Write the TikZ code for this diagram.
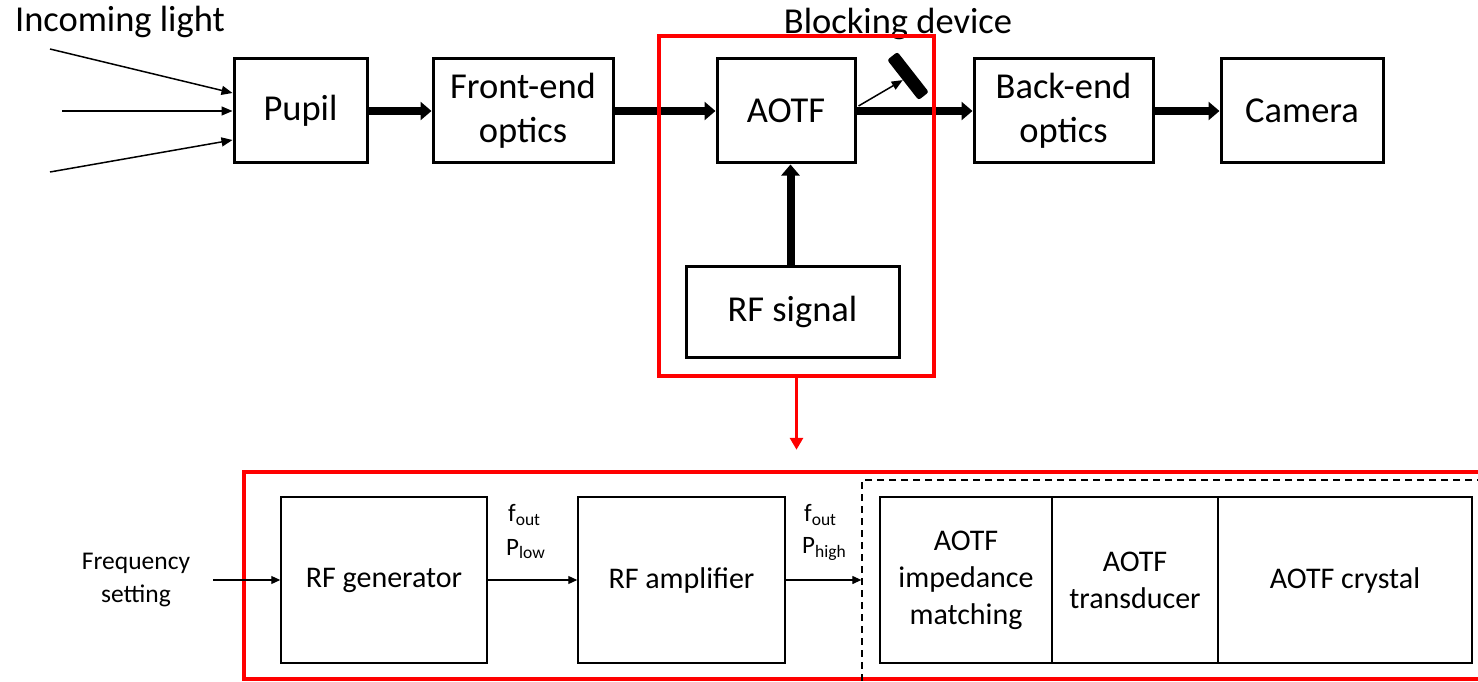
\documentclass[tikz,border=0pt]{standalone}
\usepackage{fontspec}
\setmainfont{Carlito}
\usetikzlibrary{arrows.meta,calc}
\definecolor{pred}{RGB}{255,0,0}
\begin{document}
\begin{tikzpicture}[x=1pt,y=-1pt,
  topbox/.style={draw,line width=3pt,minimum height=104pt,inner sep=0pt,align=center,
    font=\fontsize{36.5}{44}\selectfont},
  botbox/.style={draw,line width=1.5pt,minimum height=166pt,inner sep=0pt,align=center,
    font=\fontsize{30}{37}\selectfont},
  thickarrow/.style={line width=8pt,-{Triangle[length=11pt,width=18pt]}},
  thinarrow/.style={line width=1.5pt,-{Triangle[length=11pt,width=9pt]}},
  smallarrow/.style={line width=1.2pt,-{Triangle[length=9pt,width=8pt]}},
  redframe/.style={draw=pred,line width=4.5pt,inner sep=0pt},
  lbl/.style={inner sep=0pt,align=center}
]
\useasboundingbox (0,0) rectangle (1478,682);

% top row
\node[topbox,minimum width=133pt] (pupil) at (300.5,111) {Pupil};
\node[topbox,minimum width=180pt] (front) at (523,111) {Front-end\\optics};
\node[topbox,minimum width=138pt] (aotf) at (786,111) {AOTF};
\node[topbox,minimum width=179pt] (back) at (1063.5,111) {Back-end\\optics};
\node[topbox,minimum width=162pt] (cam) at (1302,111) {Camera};
\node[topbox,minimum width=213pt,minimum height=91pt] (rf) at (792.5,311.5) {RF signal};

\node[lbl,font=\fontsize{36.5}{44}\selectfont] (inc) at (120,22) {Incoming light};
\node[lbl,font=\fontsize{36.5}{44}\selectfont] (blk) at (898,24) {Blocking device};

% incoming light rays
\coordinate (in1) at (50,49);
\coordinate (in2) at (62,111);
\coordinate (in3) at (50,172);
\draw[thinarrow] (in1) -- ($(pupil.west)+(0,-18)$);
\draw[thinarrow] (in2) -- (pupil.west);
\draw[thinarrow] (in3) -- ($(pupil.west)+(0,29)$);

% thick arrows
\draw[thickarrow] (pupil.east) -- (front.west);
\draw[thickarrow] (front.east) -- (aotf.west);
\draw[thickarrow] (aotf.east) -- (back.west);
\draw[thickarrow] (back.east) -- (cam.west);
\draw[thickarrow] ($(rf.north)+(-2,0)$) -- ($(rf.north |- aotf.south)+(-2,0)$);

% blocking device
\node[fill=black,rounded corners=2.5pt,minimum width=51pt,minimum height=13pt,inner sep=0pt,rotate=-52] (block) at (908,76) {};
\draw[thinarrow] ($(aotf.east)+(2,-5)$) -- (block.south);

% red frame top
\node[redframe,minimum width=275pt,minimum height=340pt] (redtop) at (796.5,206) {};

% bottom red frame
\node[redframe,minimum width=1300pt,minimum height=207pt] (redbot) at (894,575.5) {};
\draw[pred,line width=3pt,-{Triangle[length=12pt,width=13pt]}] (redtop.south) -- ($(redtop.south |- redbot.north)+(0,-20)$);

% dashed frame
\node[draw,dash pattern=on 7pt off 5pt,line width=1.3pt,minimum width=640pt,minimum height=230pt,inner sep=0pt] (dbox) at (1182,595) {};

% bottom boxes
\node[botbox,minimum width=206pt] (gen) at (384,580) {RF generator};
\node[botbox,minimum width=207pt] (amp) at (681.5,580) {RF amplifier};
\node[botbox,minimum width=172pt] (imp) at (966,580) {AOTF\\impedance\\matching};
\node[botbox,minimum width=166pt] (trd) at (1135,580) {AOTF\\transducer};
\node[botbox,minimum width=254pt] (cry) at (1345,580) {AOTF crystal};

\node[lbl,font=\fontsize{25.5}{33}\selectfont] (freq) at (136,580) {Frequency\\setting};
\coordinate (fs) at (213,580);
\draw[smallarrow] (fs) -- (gen.west);
\draw[smallarrow] (gen.east) -- (amp.west);
\draw[smallarrow] (amp.east) -- (dbox.west |- amp.east);

\node[lbl,font=\fontsize{25}{30}\selectfont,anchor=west] (l1) at (508,515) {f\textsubscript{out}};
\node[lbl,font=\fontsize{25}{30}\selectfont,anchor=west] (l2) at (506,549) {P\textsubscript{low}};
\node[lbl,font=\fontsize{25}{30}\selectfont,anchor=west] (l3) at (804,515) {f\textsubscript{out}};
\node[lbl,font=\fontsize{25}{30}\selectfont,anchor=west] (l4) at (802,549) {P\textsubscript{high}};
\end{tikzpicture}
\end{document}
